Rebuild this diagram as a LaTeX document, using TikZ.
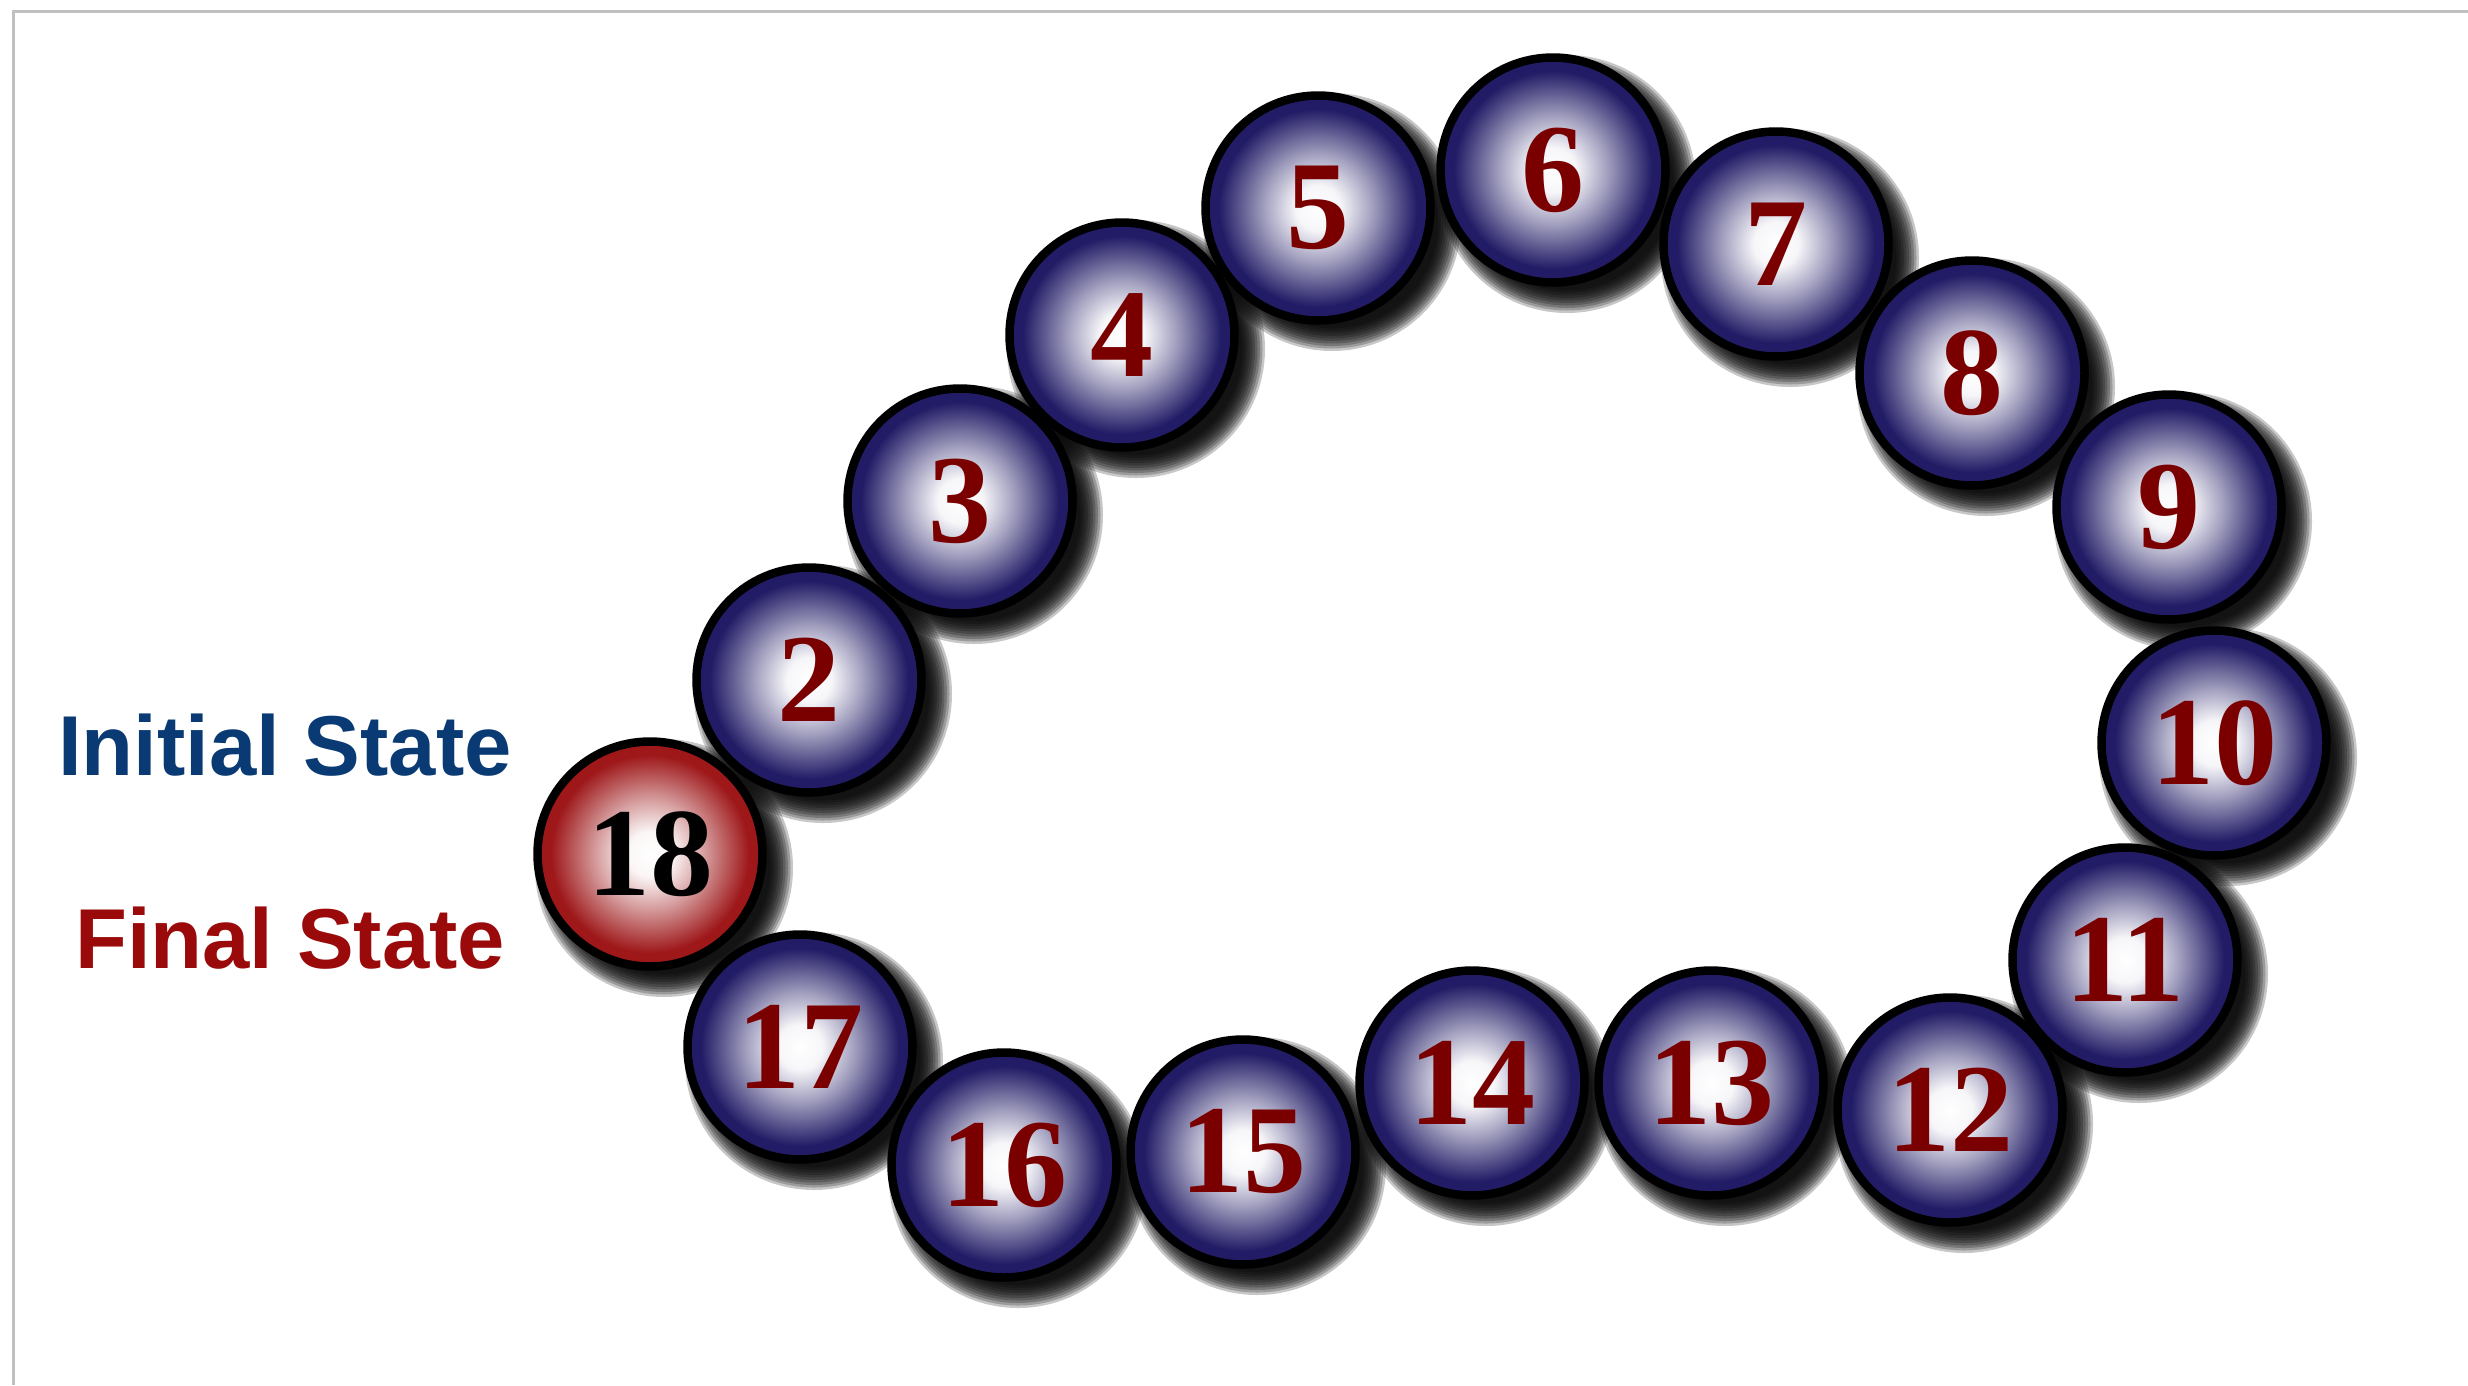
\documentclass[tikz,border=0pt]{standalone}
\usepackage{fontspec}
\setmainfont{Liberation Serif}
\newfontfamily\labelfont{Liberation Sans}
\definecolor{ballblue}{RGB}{34,28,102}
\definecolor{ballred}{RGB}{158,24,26}
\definecolor{numred}{RGB}{122,0,0}
\definecolor{initblue}{RGB}{10,58,116}
\definecolor{finalred}{RGB}{155,10,10}
\definecolor{framegray}{RGB}{192,192,192}
\pgfdeclareradialshading{blueball}{\pgfpointorigin}{color(0bp)=(white); color(5bp)=(white!96!ballblue); color(12bp)=(white!58!ballblue); color(22bp)=(ballblue); color(50bp)=(ballblue)}
\pgfdeclareradialshading{redball}{\pgfpointorigin}{color(0bp)=(white); color(5bp)=(white!96!ballred); color(12bp)=(white!58!ballred); color(22bp)=(ballred); color(50bp)=(ballred)}
\tikzset{
  ball/.style={circle, minimum size=225pt, inner sep=0pt, draw=black, line width=8.5pt,
    shading=blueball, text=numred, font=\bfseries\fontsize{126}{126}\selectfont},
  redballstyle/.style={ball, shading=redball, text=black},
  statelabel/.style={anchor=base, font=\labelfont\bfseries\fontsize{85}{85}\selectfont},
}
\begin{document}
\begin{tikzpicture}[x=1pt,y=-1pt]
\useasboundingbox (0,0) rectangle (2468,1385);
\fill[white] (0,0) rectangle (2468,1385);
\draw[framegray, line width=3pt] (13,1385) -- (13,11.5) -- (2468,11.5);
% shadows
\foreach \x/\y in {809/680, 960/501, 1122/335, 1318/208, 1553/170, 1776/244, 1972/373, 2169/507, 2214/743, 2125/960, 1950/1110, 1711/1083, 1472/1083, 1243/1152, 1004/1165, 800/1047, 650/854}{
  \foreach \k in {0,...,9}{
    \fill[black, opacity=0.22] (\x+14,\y+14) circle ({129-2.5*\k});
  }
}
% balls
\foreach \n/\x/\y in {2/809/680, 3/960/501, 4/1122/335, 5/1318/208, 6/1553/170, 7/1776/244, 8/1972/373, 9/2169/507, 10/2214/743, 11/2125/960, 12/1950/1110, 13/1711/1083, 14/1472/1083, 15/1243/1152, 16/1004/1165, 17/800/1047}{
  \node[ball] (b\n) at (\x,\y) {\n};
}
\node[redballstyle] (b18) at (650,854) {18};
\node[statelabel, text=initblue] (initial) at (285,775) {Initial State};
\node[statelabel, text=finalred] (final) at (290,968) {Final State};
\end{tikzpicture}
\end{document}
